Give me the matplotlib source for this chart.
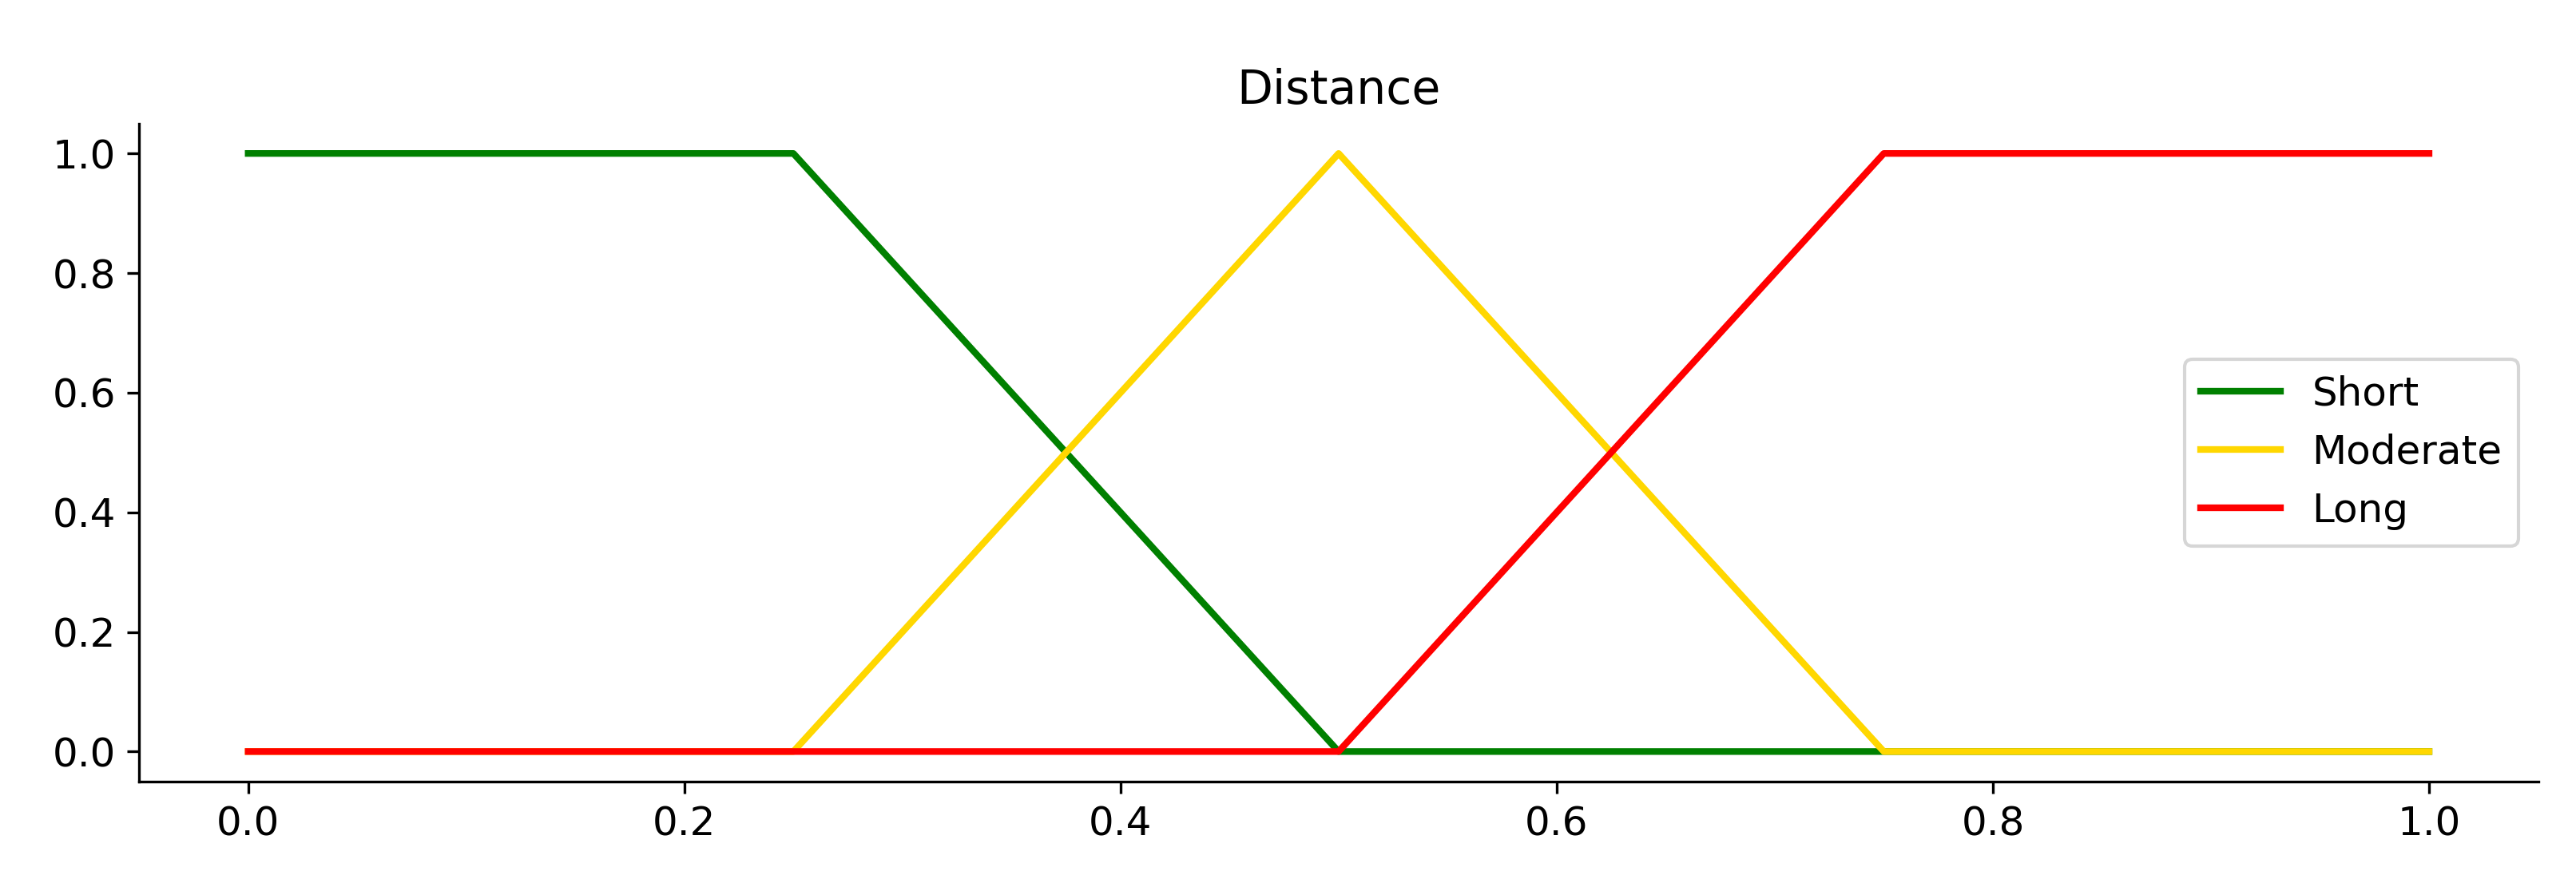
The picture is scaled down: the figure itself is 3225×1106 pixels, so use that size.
import matplotlib
matplotlib.use("Agg")
import matplotlib.pyplot as plt

x = [0.0, 0.25, 0.5, 0.75, 1.0]
short = [1, 1, 0, 0, 0]
moderate = [0, 0, 1, 0, 0]
long_ = [0, 0, 0, 1, 1]

fig = plt.figure(figsize=(10.753, 3.687), dpi=300)
ax = fig.add_axes([0.054, 0.115, 0.931, 0.745])
ax.plot(x, short, color="green", lw=2, label="Short")
ax.plot(x, moderate, color="gold", lw=2, label="Moderate")
ax.plot(x, long_, color="red", lw=2, label="Long")
ax.set_title("Distance", fontsize=14)
ax.spines["top"].set_visible(False)
ax.spines["right"].set_visible(False)
ax.tick_params(labelsize=12)
ax.legend(loc="center right", fontsize=12)
fig.savefig("out.png", dpi=300)
